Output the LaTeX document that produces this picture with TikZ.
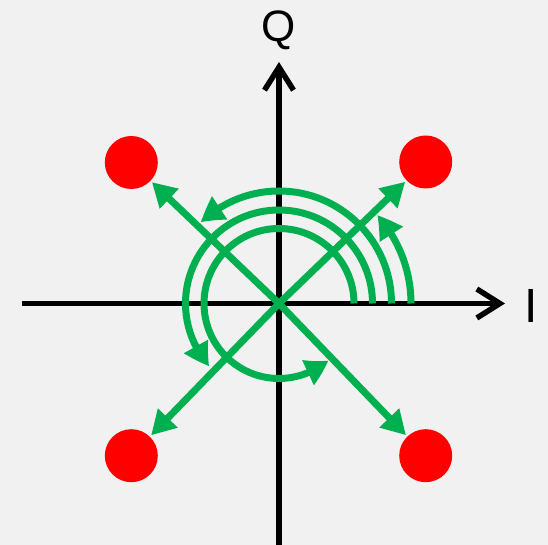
\documentclass[tikz,border=0pt]{standalone}
\usepackage{fontspec}
\setmainfont{Liberation Sans}
\usetikzlibrary{arrows.meta,bending}
\definecolor{qgreen}{RGB}{0,176,80}
\definecolor{qred}{RGB}{255,0,0}
\definecolor{bgc}{RGB}{241,241,241}
\begin{document}
\begin{tikzpicture}[x=1pt,y=1pt,
  axisline/.style={line width=5.5pt, black, -{Straight Barb[length=23pt,width=29pt]}},
  greenline/.style={line width=7pt, qgreen},
  garrow/.style={greenline, -{Triangle[length=24pt,width=26pt]}},
  barrow/.style={greenline, -{Triangle[length=24pt,width=26pt,bend]}},
  dot/.style={circle, fill=qred, minimum size=53pt, inner sep=0pt, outer sep=2pt},
  lblq/.style={inner sep=0pt, font=\fontsize{44}{44}\selectfont},
  lbli/.style={inner sep=0pt, font=\fontsize{48}{48}\selectfont}
]
\fill[bgc] (0,0) rectangle (548,545);
\useasboundingbox (0,0) rectangle (548,545);
\coordinate (O) at (279,241.5);
\coordinate (xs) at (22,241.5);
\coordinate (xe) at (505,241.5);
\coordinate (ys) at (279,0);
\coordinate (ye) at (279,483);
\draw[axisline] (xs) -- (xe);
\draw[axisline] (ys) -- (ye);
\node[dot] (tl) at (131.3,382.5) {};
\node[dot] (tr) at (425.7,383) {};
\node[dot] (bl) at (131.3,89.3) {};
\node[dot] (br) at (425.7,89.3) {};
\node[lblq] (q) at (279,515) {Q};
\node[lbli] (i) at (531.5,239.2) {I};
\draw[garrow] (O) -- (tl);
\draw[garrow] (O) -- (tr);
\draw[garrow] (O) -- (bl);
\draw[garrow] (O) -- (br);
\draw[barrow] ([shift={(0:132)}]O) arc[start angle=0, end angle=42, radius=132];
\draw[barrow] ([shift={(0:112.5)}]O) arc[start angle=0, end angle=134, radius=112.5];
\draw[barrow] ([shift={(0:93.5)}]O) arc[start angle=0, end angle=222, radius=93.5];
\draw[barrow] ([shift={(0:75)}]O) arc[start angle=0, end angle=311, radius=75];
\end{tikzpicture}
\end{document}
